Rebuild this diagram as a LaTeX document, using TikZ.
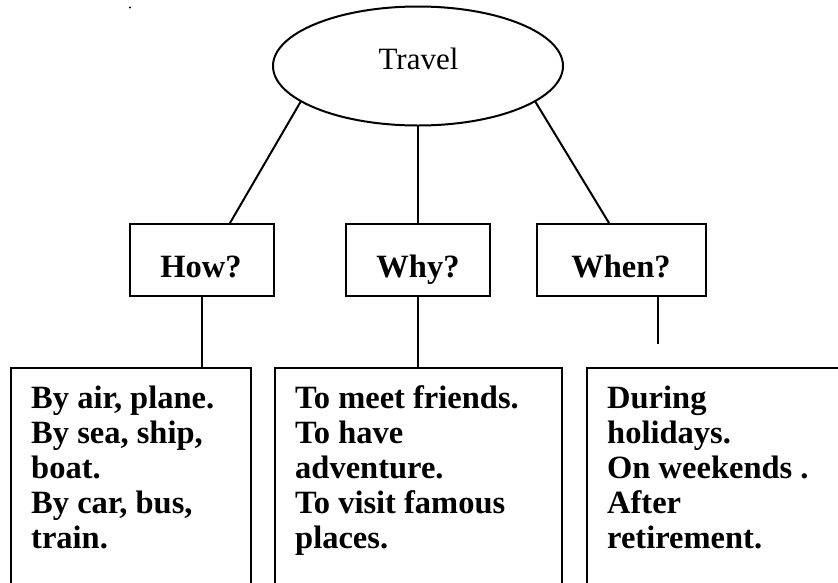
\documentclass[tikz,border=0pt]{standalone}
\usepackage{fontspec}
\setmainfont{Liberation Serif}
\usetikzlibrary{shapes.geometric}

\tikzset{
  link/.style={line width=2pt, line cap=rect},
  qbox/.style={draw, line width=2pt, minimum width=144pt, minimum height=72pt,
    inner sep=0pt, anchor=north},
  qtext/.style={anchor=base, inner sep=0pt, font=\fontsize{32.5}{35}\selectfont\bfseries},
  listbox/.style={draw, line width=2pt, anchor=north west, minimum height=260pt, inner sep=0pt},
  % base anchor of a multi-line node sits on its last line
  listtext/.style={anchor=base west, inner sep=0pt, align=left,
    font=\fontsize{32.5}{35}\selectfont\bfseries},
}

\begin{document}
\begin{tikzpicture}[x=1pt,y=-1pt]
  % page frame
  \useasboundingbox (0,0) rectangle (838,582);
  \fill[white] (0,0) rectangle (838,582);

  % stray mark in the upper left
  \fill (130,7.5) circle (1.1pt);

  % central topic
  \node[ellipse, draw, line width=2pt, minimum width=290pt, minimum height=119pt, inner sep=0pt]
    (travel) at (418,66) {};
  \node[anchor=base, inner sep=0pt, font=\fontsize{31}{35}\selectfont] (traveltxt) at (418.5,69) {Travel};

  % question boxes
  \node[qbox, minimum width=144pt] (how)  at (202,223) {};
  \node[qbox, minimum width=144pt] (why)  at (418,223) {};
  \node[qbox, minimum width=169pt] (when) at (621.5,223) {};
  \node[qtext] (howtxt)  at (201,277) {How?};
  \node[qtext] (whytxt)  at (418,277) {Why?};
  \node[qtext] (whentxt) at (621,277) {When?};

  % answer boxes (running off the lower edge)
  \node[listbox, minimum width=240pt] (b1) at (10,367) {};
  \node[listbox, minimum width=287pt] (b2) at (274,367) {};
  \node[listbox, minimum width=280pt] (b3) at (586,367) {};

  \node[listtext] (b1txt) at (31,548)
    {By air, plane.\\By sea, ship,\\boat.\\By car, bus,\\train.};
  \node[listtext] (b2txt) at (295,548)
    {To meet friends.\\To have\\adventure.\\To visit famous\\places.};
  \node[listtext] (b3txt) at (607,548)
    {During\\holidays.\\On weekends .\\After\\retirement.};

  % connectors from the topic to the questions
  \draw[link] (travel.197) -- ([xshift=28pt]how.north);
  \draw[link] (travel.south) -- (why.north);
  \draw[link] (travel.343) -- ([xshift=-12.5pt]when.north);

  % connectors from the questions to the answers
  \draw[link] (how.south) -- (how.south |- b1.north);
  \draw[link] (why.south) -- (why.south |- b2.north);
  \coordinate (whenend) at (658,343);
  \draw[link] (whenend |- when.south) -- (whenend);
\end{tikzpicture}
\end{document}
